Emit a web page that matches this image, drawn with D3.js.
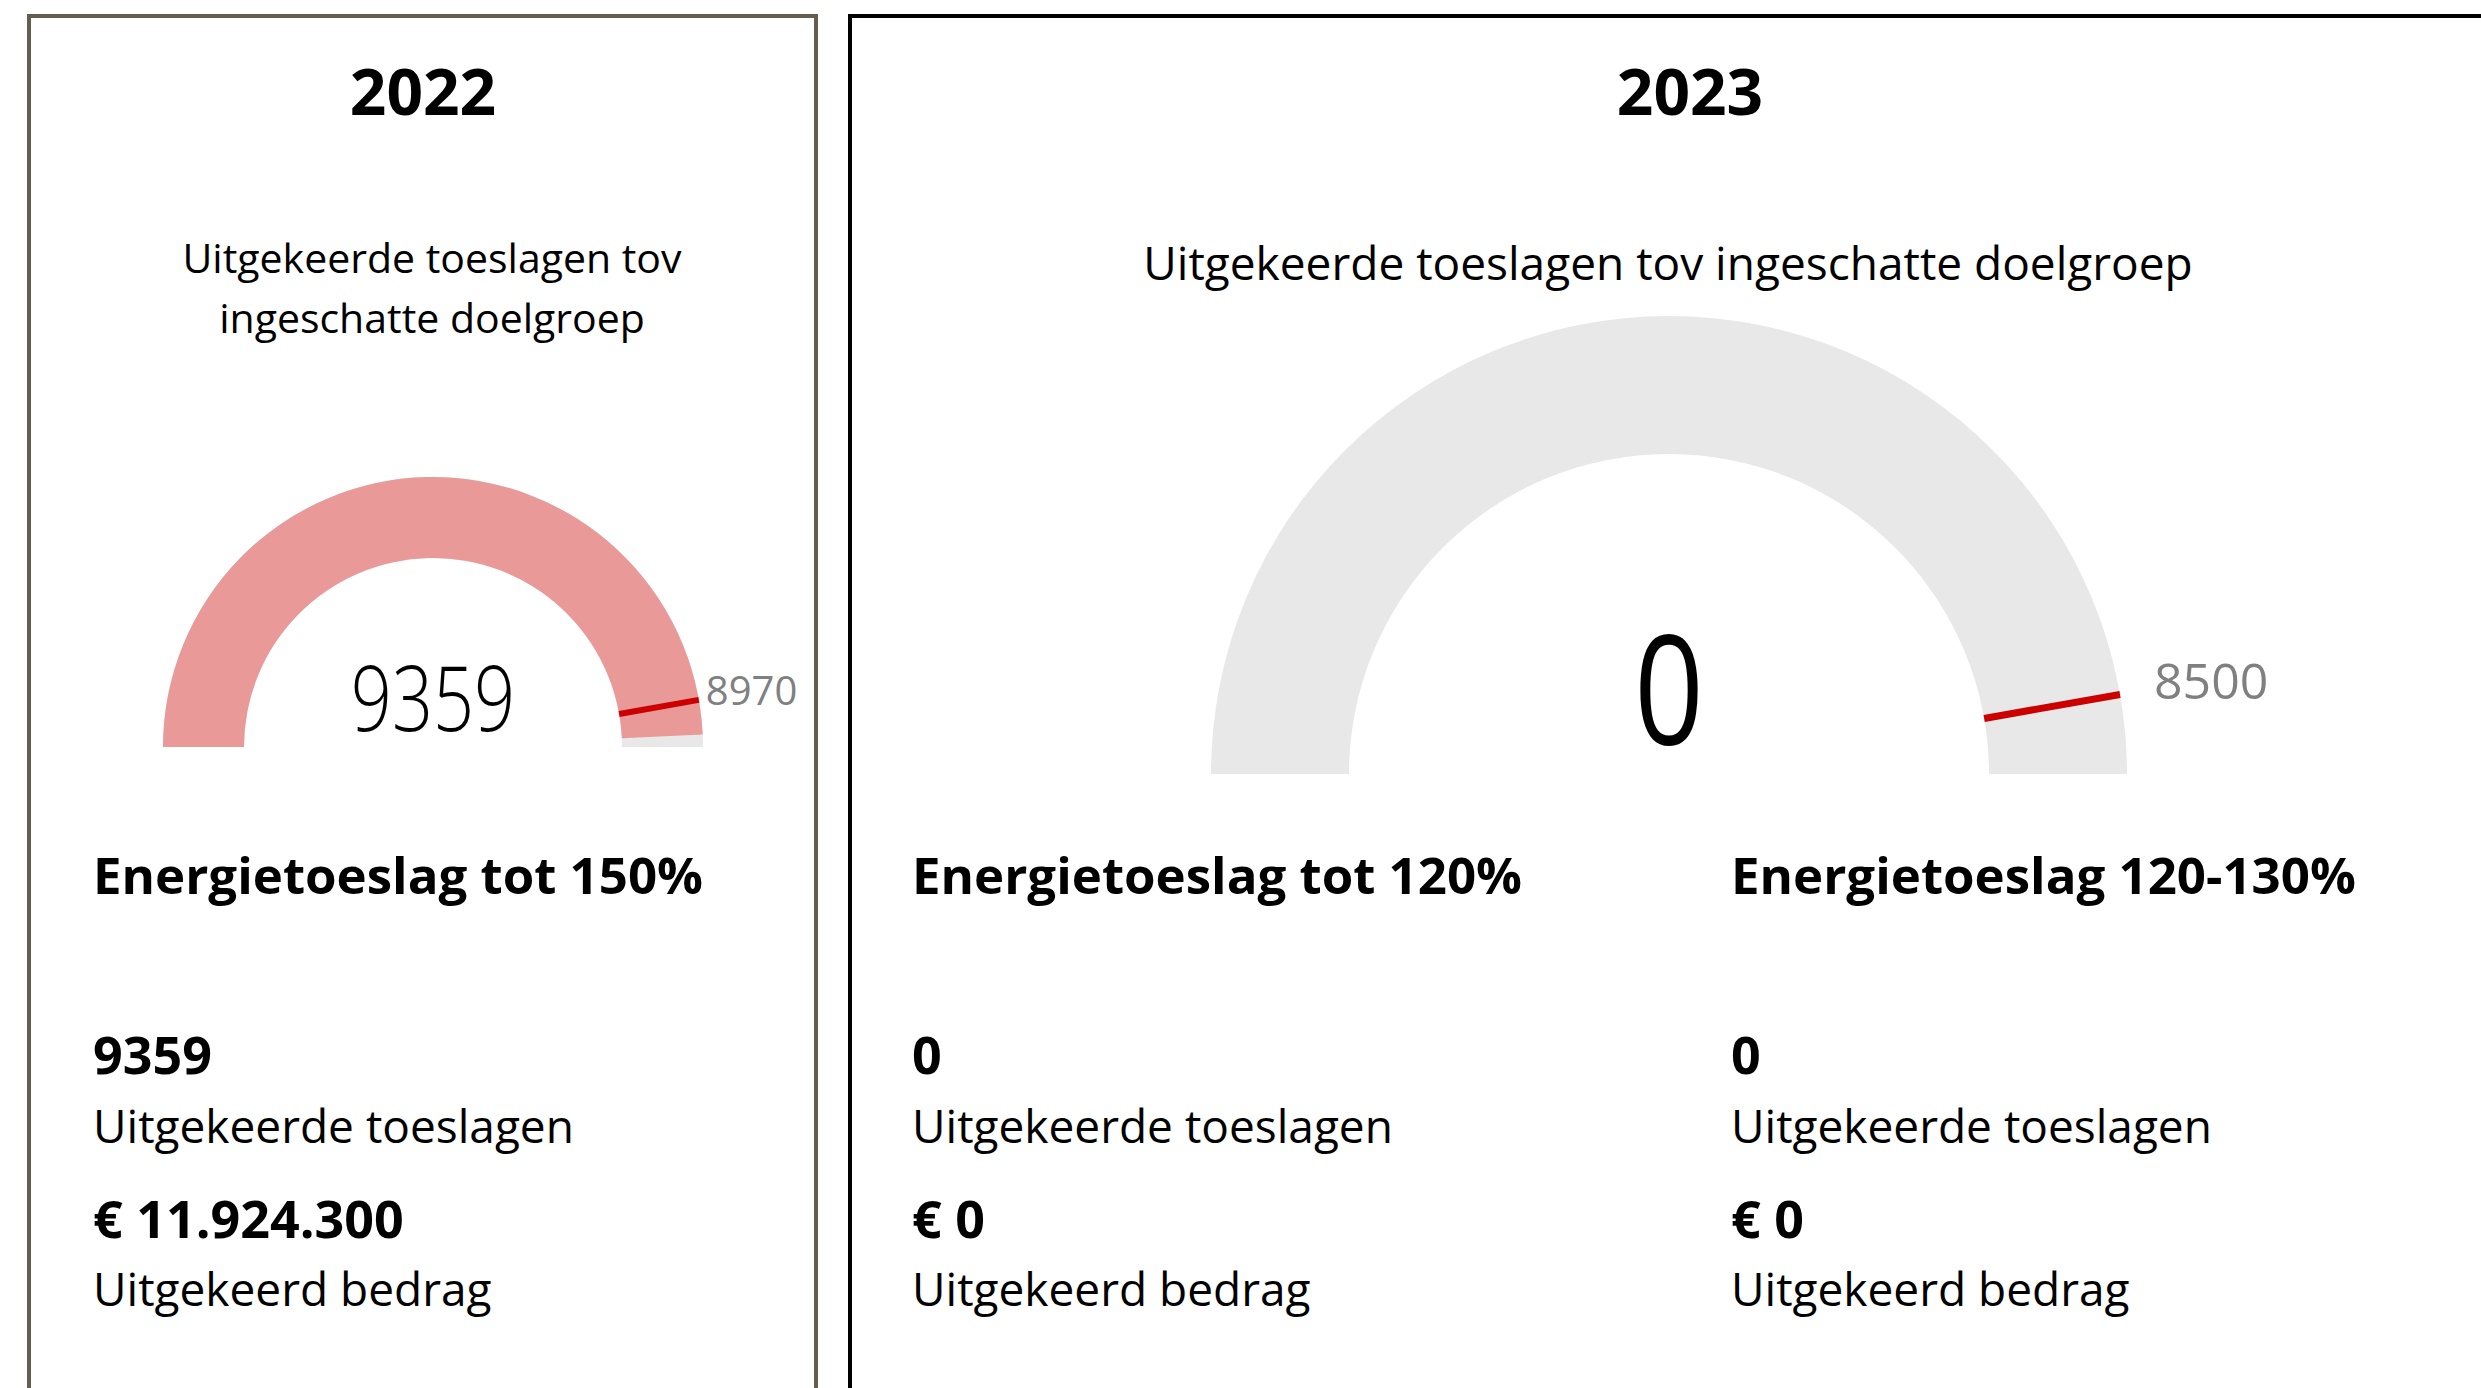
<!DOCTYPE html>
<html>
<head>
<meta charset="utf-8">
<script src="https://cdn.jsdelivr.net/npm/d3@7"></script>
<style>
  html, body { margin: 0; padding: 0; background: #fff; }
  svg text { font-family: "Segoe UI", "Open Sans", sans-serif; }
</style>
</head>
<body>
<div id="chart"></div>
<script>
// data
var years = ["2022", "2023"];
var gaugeTitles = [["Uitgekeerde toeslagen tov", "ingeschatte doelgroep"], ["Uitgekeerde toeslagen tov ingeschatte doelgroep"]];
var gaugeValues = [9359, 0];
var gaugeTargets = [8970, 8500];
var gaugeMax = [9500, 9000];

var categories = ["Energietoeslag tot 150%", "Energietoeslag tot 120%", "Energietoeslag 120-130%"];
var counts = [9359, 0, 0];
var amounts = [11924300, 0, 0];
var countLabel = "Uitgekeerde toeslagen";
var amountLabel = "Uitgekeerd bedrag";

var W = 2481, H = 1388;

var nl = d3.formatLocale({decimal: ",", thousands: ".", grouping: [3], currency: ["€ ", ""]});
var fmtAmount = nl.format("$,.0f");
var fmtCount = d3.format("d");

var svg = d3.select("#chart")
  .append("svg")
    .attr("width", W)
    .attr("height", H);

svg.append("rect").attr("width", W).attr("height", H).attr("fill", "#fff");

// cards
var cards = [
  {x: 29, y: 16, w: 787, h: 1420, stroke: "#625e50", cx: 423, gx: 433, gy: 747, ro: 270, ri: 189},
  {x: 850, y: 16, w: 1700, h: 1420, stroke: "#000000", cx: 1690, gx: 1669, gy: 774, ro: 458, ri: 320}
];

svg.selectAll("rect.card")
  .data(cards)
  .enter()
  .append("rect")
    .attr("class", "card")
    .attr("x", d => d.x)
    .attr("y", d => d.y)
    .attr("width", d => d.w)
    .attr("height", d => d.h)
    .attr("fill", "none")
    .attr("stroke", d => d.stroke)
    .attr("stroke-width", 4);

// year titles
svg.selectAll("text.year")
  .data(years)
  .enter()
  .append("text")
    .attr("class", "year")
    .attr("x", (d, i) => cards[i].cx)
    .attr("y", 115)
    .attr("text-anchor", "middle")
    .attr("font-size", 64)
    .attr("font-weight", 700)
    .text(d => d);

// gauge subtitles
var subSpec = [{x: 432, y: 273, size: 41, lh: 60}, {x: 1668, y: 280, size: 46, lh: 60}];
gaugeTitles.forEach(function(lines, i) {
  svg.append("text")
    .attr("text-anchor", "middle")
    .attr("font-size", subSpec[i].size)
    .selectAll("tspan")
    .data(lines)
    .enter()
    .append("tspan")
      .attr("x", subSpec[i].x)
      .attr("y", (d, j) => subSpec[i].y + j * subSpec[i].lh)
      .text(d => d);
});

// gauges
var labelSize = [40, 50];
var labelGap = [7, 34];
var markerWidth = [6, 7];
var valueSize = [90, 152];
var valueWeight = [300, 400];
gaugeValues.forEach(function(v, i) {
  var c = cards[i];
  var g = svg.append("g").attr("transform", "translate(" + c.gx + "," + c.gy + ")");
  var angle = d3.scaleLinear().domain([0, gaugeMax[i]]).range([-Math.PI / 2, Math.PI / 2]).clamp(true);
  var arc = d3.arc().innerRadius(c.ri).outerRadius(c.ro);

  g.append("path")
    .attr("d", arc({startAngle: -Math.PI / 2, endAngle: Math.PI / 2}))
    .attr("fill", "#e8e8e8");

  if (v > 0) {
    g.append("path")
      .attr("d", arc({startAngle: -Math.PI / 2, endAngle: angle(v)}))
      .attr("fill", "#ea9999");
  }

  var a = angle(gaugeTargets[i]);
  g.append("line")
    .attr("x1", c.ri * Math.sin(a))
    .attr("y1", -c.ri * Math.cos(a))
    .attr("x2", c.ro * Math.sin(a))
    .attr("y2", -c.ro * Math.cos(a))
    .attr("stroke", "#cc0000")
    .attr("stroke-width", markerWidth[i]);

  g.append("text")
    .attr("x", c.ro * Math.sin(a) + labelGap[i])
    .attr("y", -c.ro * Math.cos(a) + 5)
    .attr("font-family", "Roboto")
    .attr("font-size", labelSize[i])
    .attr("fill", "#808080")
    .text(gaugeTargets[i]);

  g.append("text")
    .attr("transform", "translate(0," + (i === 0 ? -16 : -29) + ") scale(0.8,1)")
    .attr("text-anchor", "middle")
    .attr("font-family", "Roboto")
    .attr("font-weight", valueWeight[i])
    .attr("font-size", valueSize[i])
    .attr("fill", "#000")
    .text(fmtCount(v));
});

// KPI columns
var colX = [93, 912, 1731];
var cols = svg.selectAll("g.kpi")
  .data(categories)
  .enter()
  .append("g")
    .attr("class", "kpi")
    .attr("transform", (d, i) => "translate(" + colX[i] + ",0)");

cols.append("text")
  .attr("y", 894)
  .attr("font-size", 51)
  .attr("font-weight", 700)
  .text(d => d);

cols.append("text")
  .attr("y", 1074)
  .attr("font-size", 52)
  .attr("font-weight", 700)
  .text((d, i) => fmtCount(counts[i]));

cols.append("text")
  .attr("y", 1143)
  .attr("font-size", 46)
  .text(countLabel);

cols.append("text")
  .attr("y", 1238)
  .attr("font-size", 52)
  .attr("font-weight", 700)
  .text((d, i) => fmtAmount(amounts[i]));

cols.append("text")
  .attr("y", 1306)
  .attr("font-size", 46)
  .text(amountLabel);
</script>
</body>
</html>
